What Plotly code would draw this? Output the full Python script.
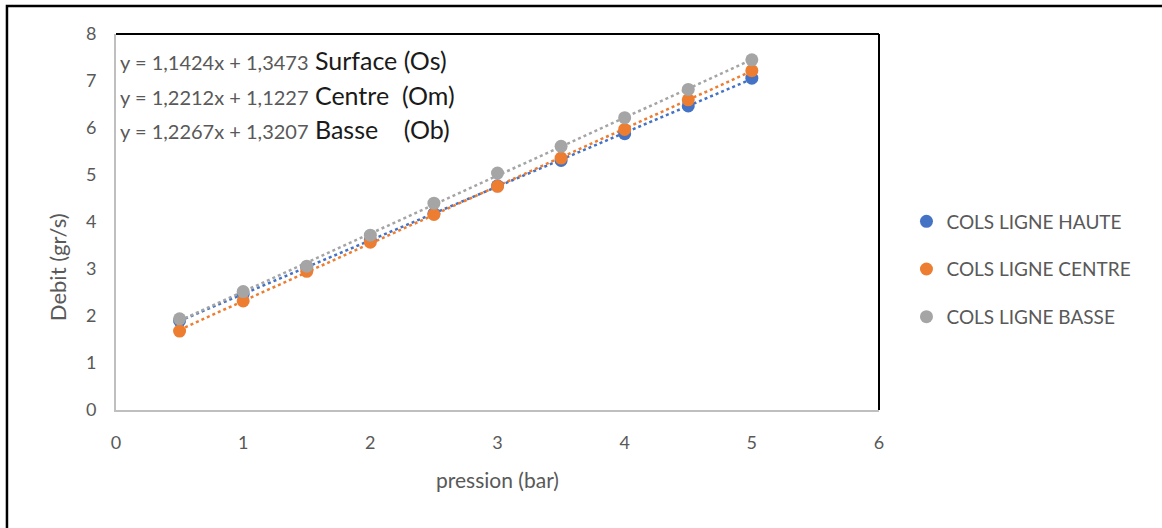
import numpy as np
import plotly.graph_objects as go

pression = [0.5, 1, 1.5, 2, 2.5, 3, 3.5, 4, 4.5, 5]
haute = [1.90, 2.47, 3.03, 3.62, 4.18, 4.77, 5.31, 5.88, 6.47, 7.06]
centre = [1.68, 2.32, 2.95, 3.57, 4.16, 4.76, 5.36, 5.97, 6.60, 7.22]
basse = [1.94, 2.52, 3.06, 3.72, 4.40, 5.04, 5.61, 6.22, 6.82, 7.45]

series_names = ["COLS LIGNE HAUTE", "COLS LIGNE CENTRE", "COLS LIGNE BASSE"]
series_values = [haute, centre, basse]
colors = ["#4472C4", "#ED7D31", "#A5A5A5"]

equations = ["y = 1,1424x + 1,3473", "y = 1,2212x + 1,1227", "y = 1,2267x + 1,3207"]
eq_labels = ["Surface (Os)", "Centre&nbsp;&nbsp;(Om)", "Basse&nbsp;&nbsp;&nbsp;&nbsp;(Ob)"]

x_ticks = [0, 1, 2, 3, 4, 5, 6]
y_ticks = [0, 1, 2, 3, 4, 5, 6, 7, 8]

FONT = "Lato, Open Sans, sans-serif"

fig = go.Figure()

# trendlines (linear fit of each series)
xs = np.array(pression)
for name, vals, col in zip(series_names, series_values, colors):
    a, b = np.polyfit(xs, np.array(vals), 1)
    xl = np.array([xs.min(), xs.max()])
    fig.add_trace(go.Scatter(x=xl, y=a * xl + b, mode="lines",
                             line=dict(color=col, width=2.5, dash="dot"),
                             showlegend=False, hoverinfo="skip"))

for name, vals, col in zip(series_names, series_values, colors):
    fig.add_trace(go.Scatter(x=pression, y=vals, mode="markers", name=name,
                             legendgroup=name,
                             marker=dict(color=col, size=13)))

ys = [0.931, 0.838, 0.747]
for eq, lab, yy in zip(equations, eq_labels, ys):
    fig.add_annotation(
        xref="paper", yref="paper", x=0.003, y=yy, xanchor="left", yanchor="middle",
        showarrow=False,
        text=f"<span style='font-size:20px;color:#595959'>{eq}</span> {lab}",
        font=dict(family=FONT, size=25, color="#1a1a1a"))

# y axis title
fig.add_annotation(xref="paper", yref="paper", x=-0.0773, y=0.38, textangle=-90,
                   xanchor="center", yanchor="middle",
                   showarrow=False, text="Debit (gr/s)",
                   font=dict(family=FONT, size=22, color="#595959"))

# plot area border: black top and right
fig.add_shape(type="line", xref="paper", yref="paper", x0=0, x1=1, y0=1, y1=1,
              line=dict(color="black", width=2))
fig.add_shape(type="line", xref="paper", yref="paper", x0=1, x1=1, y0=0, y1=1,
              line=dict(color="black", width=2))
# outer frame
fig.add_shape(type="rect", xref="paper", yref="paper", x0=-0.1429, x1=1.40, y0=-0.32, y1=1.0745,
              line=dict(color="black", width=2.5), layer="below")

fig.update_layout(
    width=1162, height=528,
    margin=dict(l=116, r=283, t=34, b=118),
    plot_bgcolor="white", paper_bgcolor="white",
    font=dict(family=FONT, color="#595959", size=17),
    legend=dict(x=1.036, y=0.552, xanchor="left", yanchor="top",
                font=dict(family=FONT, size=19, color="#595959"),
                tracegroupgap=20, traceorder="grouped", itemwidth=30),
    xaxis=dict(range=[0, 6], tickvals=x_ticks, showgrid=False, zeroline=False,
               showline=True, linecolor="#BFBFBF", linewidth=2, ticks="",
               ticklabelstandoff=15, tickfont=dict(size=18),
               title=dict(text="pression (bar)", font=dict(size=21), standoff=22)),
    yaxis=dict(range=[0, 8], tickvals=y_ticks, showgrid=False, zeroline=False,
               showline=True, linecolor="#BFBFBF", linewidth=2, ticks="",
               ticklabelstandoff=14, tickfont=dict(size=18)),
)

fig.write_html("out.html", config={"displayModeBar": False},
               post_script="document.body.style.margin='0px';")
